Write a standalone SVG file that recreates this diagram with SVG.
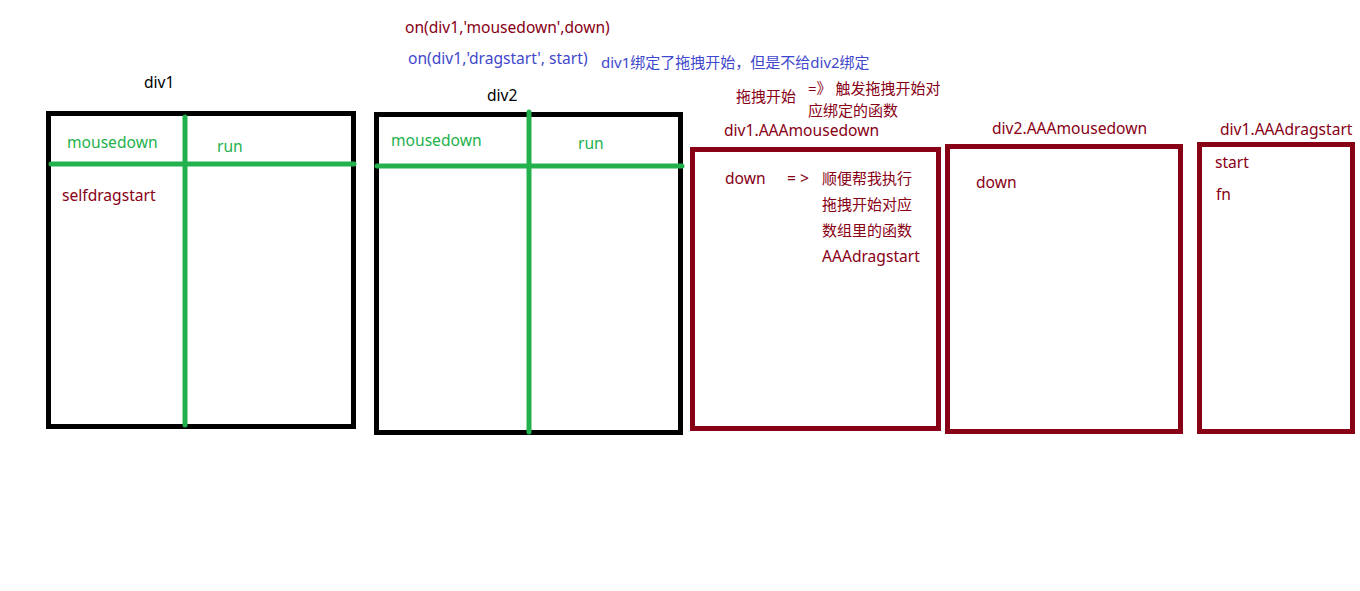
<svg xmlns="http://www.w3.org/2000/svg" width="1360" height="591" viewBox="0 0 1360 591">
<style>
text{font-family:"Noto Sans","Noto Sans CJK SC",sans-serif;font-size:15.6px}
.cj{font-size:15px}
.k{fill:#000}
.r{fill:#880015}
.b{fill:#3f48cc}
.g{fill:#22b14c}
.bb{fill:none;stroke:#000;stroke-width:5}
.rb{fill:none;stroke:#880015;stroke-width:5}
.gl{stroke:#22b14c;stroke-width:5;stroke-linecap:round}
</style>
<rect width="1360" height="591" fill="#fff"/>
<g id="notes">
<text class="r" x="405" y="33">on(div1,'mousedown',down)</text>
<text class="b" x="408" y="64">on(div1,'dragstart', start)</text>
<text class="b cj" x="601" y="68" font-size="15.3">div1绑定了拖拽开始，但是不给div2绑定</text>
<text class="r cj" x="736" y="102">拖拽开始</text>
<text class="r cj" x="808" y="94">=》 触发拖拽开始对</text>
<text class="r cj" x="808" y="116">应绑定的函数</text>
</g>
<g id="div1">
<text class="k" x="144" y="88">div1</text>
<rect class="bb" x="48.5" y="113.5" width="305" height="313"/>
<text class="g" x="67" y="148">mousedown</text>
<text class="g" x="217" y="152">run</text>
<text class="r" x="62" y="201">selfdragstart</text>
</g>
<g id="div2">
<text class="k" x="487" y="101">div2</text>
<rect class="bb" x="376.5" y="114.5" width="304" height="318"/>
<text class="g" x="391" y="146">mousedown</text>
<text class="g" x="578" y="149">run</text>
</g>
<g id="div1-mousedown">
<text class="r" x="724" y="136">div1.AAAmousedown</text>
<rect class="rb" x="692.5" y="149.5" width="246" height="279"/>
<text class="r" x="725" y="184">down</text>
<text class="r" x="787" y="184">= &gt;</text>
<text class="r cj" x="822" y="184">顺便帮我执行</text>
<text class="r cj" x="822" y="210">拖拽开始对应</text>
<text class="r cj" x="822" y="236">数组里的函数</text>
<text class="r" x="822" y="262">AAAdragstart</text>
</g>
<g id="div2-mousedown">
<text class="r" x="992" y="134">div2.AAAmousedown</text>
<rect class="rb" x="947.5" y="146.5" width="233" height="285"/>
<text class="r" x="976" y="188">down</text>
</g>
<g id="div1-dragstart">
<text class="r" x="1220" y="135">div1.AAAdragstart</text>
<rect class="rb" x="1199.5" y="144.5" width="153" height="287"/>
<text class="r" x="1215" y="168">start</text>
<text class="r" x="1216" y="200">fn</text>
</g>
<g id="connectors">
<line class="gl" x1="185" y1="117" x2="185" y2="425"/>
<line class="gl" x1="51" y1="164" x2="354" y2="164"/>
<line class="gl" x1="529" y1="112" x2="529" y2="432"/>
<line class="gl" x1="377" y1="166" x2="682" y2="166"/>
</g>
</svg>
